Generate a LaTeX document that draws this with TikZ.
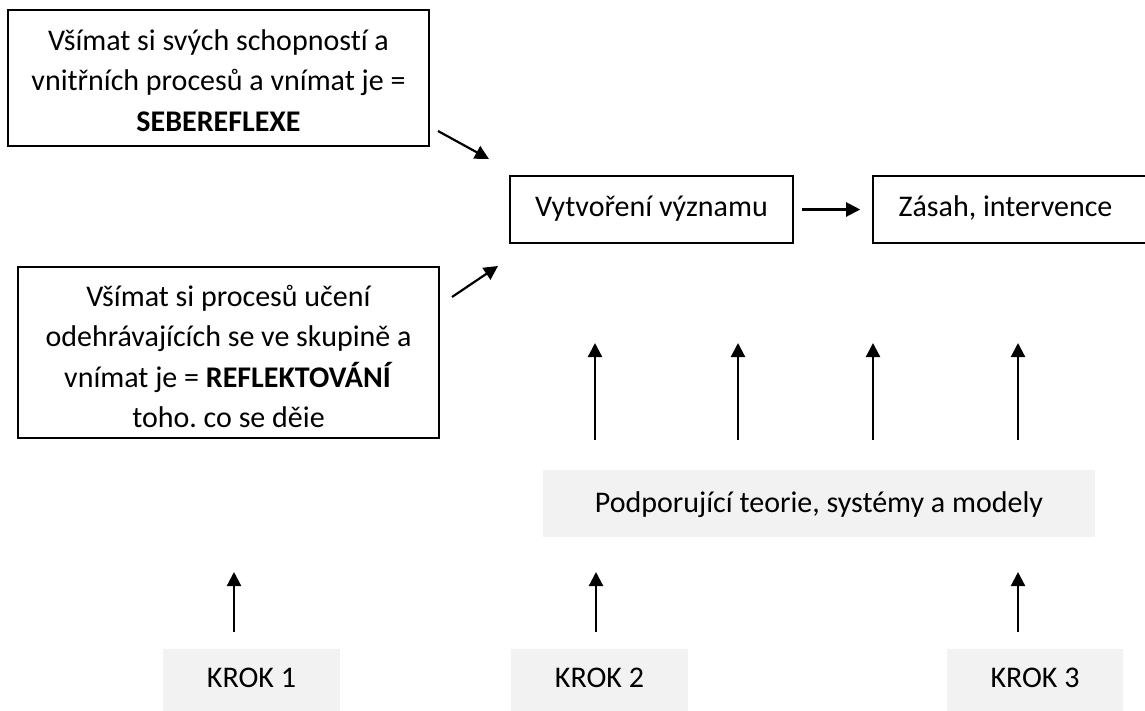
\documentclass[tikz,border=0pt]{standalone}
\usepackage{fontspec}
\setmainfont[Ligatures=NoCommon]{Carlito}
\usetikzlibrary{arrows.meta}
\definecolor{greybox}{HTML}{F2F2F2}
\newcommand\vstr[2]{\rule[-#2]{0pt}{\dimexpr#1+#2\relax}}
\frenchspacing
\begin{document}
\begin{tikzpicture}[x=1pt,y=-1pt,
  txt/.style={font=\fontsize{30}{40.5}\selectfont},
  framebox/.style={draw=black,line width=1.6pt,inner sep=0pt,align=center,txt},
  greyb/.style={fill=greybox,inner sep=0pt,txt,text height=20pt,text depth=7pt},
  arr/.style={line width=2.2pt,-{Triangle[length=14pt,width=14pt]}}
]
\useasboundingbox (0,0) rectangle (1145,710);
\clip (0,0) rectangle (1145,710);
\fill[white] (0,0) rectangle (1145,710);

% framed boxes
\node[framebox,minimum width=421pt,minimum height=136pt] (sebe) at (218.5,78)
  {\vstr{30pt}{0pt}Všímat si svých schopností a\\vnitřních procesů a vnímat je =\\\textbf{SEBEREFLEXE}\vstr{0pt}{5pt}};
\node[framebox,minimum width=421pt,minimum height=171pt] (refl) at (228.5,352.5)
  {\vstr{32pt}{0pt}Všímat si procesů učení\\odehrávajících se ve skupině a\\vnímat je = \textbf{REFLEKTOVÁNÍ}\\toho. co se děie\vstr{0pt}{3.5pt}};
\node[framebox,minimum width=283pt,minimum height=67pt,text height=20pt,text depth=7pt] (vyz) at (651.5,209.5) {Vytvoření významu};
\node[framebox,minimum width=277pt,minimum height=67pt,text height=20pt,text depth=7pt] (zas) at (1011.5,209.5) {Zásah, intervence\hspace*{12pt}};

% grey boxes
\node[greyb,minimum width=552pt,minimum height=67pt,text height=22pt,text depth=5pt] (teor) at (819,503.5) {Podporující teorie, systémy a modely};
\node[greyb,minimum width=177pt,minimum height=63pt] (k1) at (251.5,680.5) {KROK 1};
\node[greyb,minimum width=177pt,minimum height=63pt] (k2) at (599.5,680.5) {KROK 2};
\node[greyb,minimum width=176pt,minimum height=63pt] (k3) at (1035,680.5) {KROK 3};

% connectors
\draw[arr,shorten <=8pt,shorten >=12pt] (vyz.east) -- (zas.west);

\coordinate (a1s) at (438,131); \coordinate (a1e) at (489,159);
\coordinate (a2s) at (452,297); \coordinate (a2e) at (498,266);
\draw[arr] (a1s) -- (a1e);
\draw[arr] (a2s) -- (a2e);

\foreach \i/\x in {1/595,2/738,3/873,4/1018}{
  \coordinate (u\i s) at (\x,440);
  \coordinate (u\i e) at (\x,343);
  \draw[arr] (u\i s) -- (u\i e);
}
\foreach \i/\x in {1/234,2/596,3/1018}{
  \coordinate (b\i s) at (\x,632);
  \coordinate (b\i e) at (\x,572);
  \draw[arr] (b\i s) -- (b\i e);
}
\end{tikzpicture}
\end{document}
